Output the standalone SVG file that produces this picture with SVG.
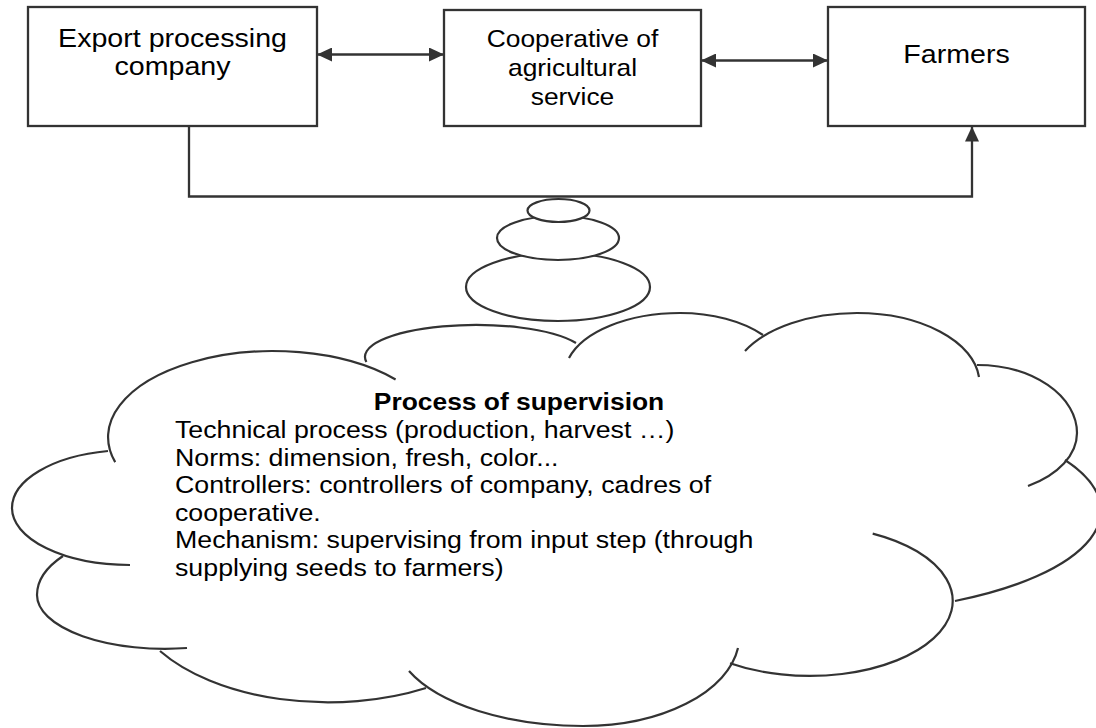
<svg xmlns="http://www.w3.org/2000/svg" width="1096" height="728" viewBox="0 0 1096 728">
<style>
.box{fill:#fff;stroke:#333;stroke-width:2.3}
.ln{fill:none;stroke:#333;stroke-width:2.3}
.cl{fill:none;stroke:#333;stroke-width:2.2}
.bub{fill:#fff;stroke:#333;stroke-width:2.2}
.t{font-family:"Liberation Sans",Arial,sans-serif;fill:#000}
.b26{font-size:26px;text-anchor:middle}
.b24{font-size:24px;text-anchor:middle}
.c24{font-size:24px}
.bold{font-weight:bold;text-anchor:middle}
</style>
<defs>
<marker id="ah" viewBox="0 0 15 14" refX="15" refY="7" markerWidth="15" markerHeight="14" markerUnits="userSpaceOnUse" orient="auto-start-reverse">
<path d="M0,0 L15,7 L0,14 z" fill="#333"/>
</marker>
</defs>
<g id="connectors">
<line class="ln" x1="317" y1="54.5" x2="444" y2="54.5" marker-start="url(#ah)" marker-end="url(#ah)"/>
<line class="ln" x1="701" y1="60.5" x2="828" y2="60.5" marker-start="url(#ah)" marker-end="url(#ah)"/>
<polyline class="ln" points="189,126 189,196.5 972,196.5 972,126.5" marker-end="url(#ah)"/>
</g>
<g id="export-company">
<rect class="box" x="28" y="7" width="289" height="119"/>
<text class="t b26" transform="matrix(1.1 0 0 1 172.5 46.5)">Export processing</text>
<text class="t b26" transform="matrix(1.1 0 0 1 172.5 75)">company</text>
</g>
<g id="cooperative">
<rect class="box" x="444" y="10" width="257" height="116"/>
<text class="t b24" transform="matrix(1.1 0 0 1 572.5 46.5)">Cooperative of</text>
<text class="t b24" transform="matrix(1.1 0 0 1 572.5 75.5)">agricultural</text>
<text class="t b24" transform="matrix(1.1 0 0 1 572.5 104.5)">service</text>
</g>
<g id="farmers">
<rect class="box" x="828" y="7" width="257" height="119"/>
<text class="t b26" transform="matrix(1.1 0 0 1 956.5 62.5)">Farmers</text>
</g>
<g id="thought-bubbles">
<ellipse class="bub" cx="558" cy="287" rx="92" ry="34"/>
<ellipse class="bub" cx="558" cy="238" rx="61" ry="22"/>
<ellipse class="bub" cx="558.5" cy="210.5" rx="31" ry="11.5"/>
</g>
<g id="cloud">
<path class="cl" d="M115.2,462.1 A165,86 0 0 1 395.6,379.5"/>
<path class="cl" d="M366.4,362 A111,32 0 0 1 576,343"/>
<path class="cl" d="M569,358 A115.4,62 0 0 1 680,313 A108.6,62 0 0 1 763,335"/>
<path class="cl" d="M745,351 A126,70 0 0 1 857,313 A122.5,70 0 0 1 979,377"/>
<path class="cl" d="M977,365 A100,68 0 0 1 1077,433 A100,61.6 0 0 1 1028,486"/>
<path class="cl" d="M1065,460 A280,103 0 0 1 955,601"/>
<path class="cl" d="M872.7,533.6 A143,75 0 1 1 730,663.2"/>
<path class="cl" d="M738,648 A156.4,90 0 0 1 583,726 A188.9,90 0 0 1 409,671"/>
<path class="cl" d="M426,688 A200,112 0 0 1 160,651"/>
<path class="cl" d="M187,648 A128,53.8 0 0 1 37,595 A128,64.6 0 0 1 63,556"/>
<path class="cl" d="M130,565 A118,57 0 0 1 12,508 A118,58 0 0 1 108,451"/>
<text class="t c24 bold" transform="matrix(1.1 0 0 1 519 409.5)">Process of supervision</text>
<text class="t c24" transform="matrix(1.115 0 0 1 175 438)">Technical process (production, harvest …)</text>
<text class="t c24" transform="matrix(1.115 0 0 1 175 465.5)">Norms: dimension, fresh, color...</text>
<text class="t c24" transform="matrix(1.115 0 0 1 175 493)">Controllers: controllers of company, cadres of</text>
<text class="t c24" transform="matrix(1.115 0 0 1 175 520.5)">cooperative.</text>
<text class="t c24" transform="matrix(1.115 0 0 1 175 548)">Mechanism: supervising from input step (through</text>
<text class="t c24" transform="matrix(1.115 0 0 1 175 575.5)">supplying seeds to farmers)</text>
</g>
</svg>
